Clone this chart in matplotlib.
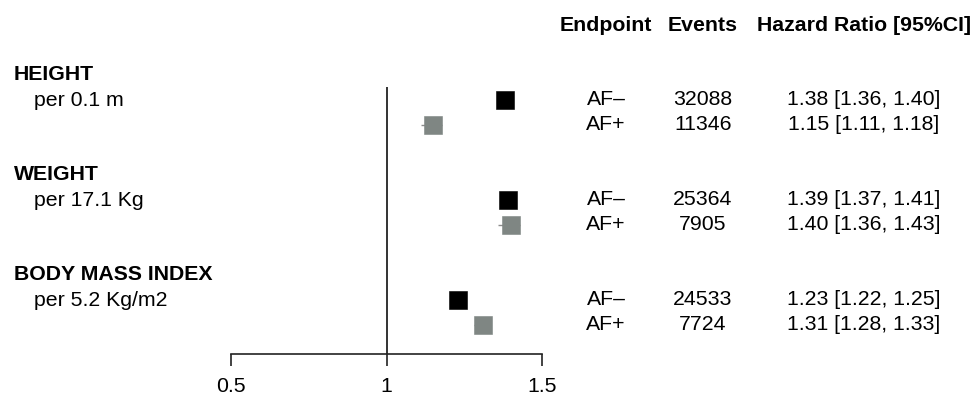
import matplotlib
matplotlib.use("Agg")
import matplotlib.pyplot as plt
from matplotlib.transforms import blended_transform_factory

plt.rcParams["font.family"] = ["Liberation Sans", "DejaVu Sans"]

# Forest plot data
groups = ["HEIGHT", "WEIGHT", "BODY MASS INDEX"]
units = ["per 0.1 m", "per 17.1 Kg", "per 5.2 Kg/m2"]
endpoints = ["AF\u2013", "AF+"]
events = [[32088, 11346], [25364, 7905], [24533, 7724]]
hr = [[1.38, 1.15], [1.39, 1.40], [1.23, 1.31]]
ci_low = [[1.36, 1.11], [1.37, 1.36], [1.22, 1.28]]
ci_high = [[1.40, 1.18], [1.41, 1.43], [1.25, 1.33]]
xticks = [0.5, 1, 1.5]
xtick_labels = ["0.5", "1", "1.5"]

box_colors = ["#000000", "#7f8683"]
ci_color = "#8c8c8c"

W, H = 975, 399
fig = plt.figure(figsize=(W / 100, H / 100), dpi=100)

# row layout (one unit = one text line)
line = 25.0
ax_top_px, ax_bot_px = 87, 354
ax = fig.add_axes([231 / W, (H - ax_bot_px) / H, (542 - 231) / W,
                   (ax_bot_px - ax_top_px) / H])
ax.set_xlim(0.5, 1.5)
ax.set_ylim(ax_bot_px / line, ax_top_px / line)

fs = 15.3

for s in ("left", "top", "right"):
    ax.spines[s].set_visible(False)
ax.spines["bottom"].set_linewidth(1.2)
ax.spines["bottom"].set_color("#222222")
ax.set_yticks([])
ax.set_xticks(xticks)
ax.set_xticklabels(xtick_labels)
ax.tick_params(axis="x", direction="out", length=8.5, width=1.2,
               color="#222222", pad=8, labelsize=fs)
ax.axvline(1, color="#111111", lw=1.2, zorder=1)

tx = blended_transform_factory(fig.transFigure, ax.transData)
col_end, col_ev, col_hr = 606 / W, 703 / W, 864 / W

header_y = 26 / line
ax.text(col_end, header_y, "Endpoint", transform=tx, ha="center",
        va="center", fontsize=fs, fontweight="bold")
ax.text(col_ev, header_y, "Events", transform=tx, ha="center",
        va="center", fontsize=fs, fontweight="bold")
ax.text(col_hr, header_y, "Hazard Ratio [95%CI]", transform=tx,
        ha="center", va="center", fontsize=fs, fontweight="bold")

for g in range(len(groups)):
    base = 3 + 4 * g
    ax.text(14 / W, base, groups[g], transform=tx, ha="left", va="center",
            fontsize=fs, fontweight="bold")
    ax.text(34 / W, base + 1.02, units[g], transform=tx, ha="left",
            va="center", fontsize=fs)
    for k in range(2):
        y = base + 1 + k
        ax.plot([ci_low[g][k], ci_high[g][k]], [y, y], color=ci_color,
                lw=1.0, zorder=2, solid_capstyle="butt")
        ax.plot(hr[g][k], y, marker="s", ms=13.2, color=box_colors[k],
                mec=box_colors[k], mew=0.4, zorder=3, clip_on=False)
        ax.text(col_end, y, endpoints[k], transform=tx, ha="center",
                va="center", fontsize=fs)
        ax.text(col_ev, y, str(events[g][k]), transform=tx, ha="center",
                va="center", fontsize=fs)
        ax.text(col_hr, y,
                f"{hr[g][k]:.2f} [{ci_low[g][k]:.2f}, {ci_high[g][k]:.2f}]",
                transform=tx, ha="center", va="center", fontsize=fs)

fig.savefig("out.png", dpi=100, facecolor="white")
